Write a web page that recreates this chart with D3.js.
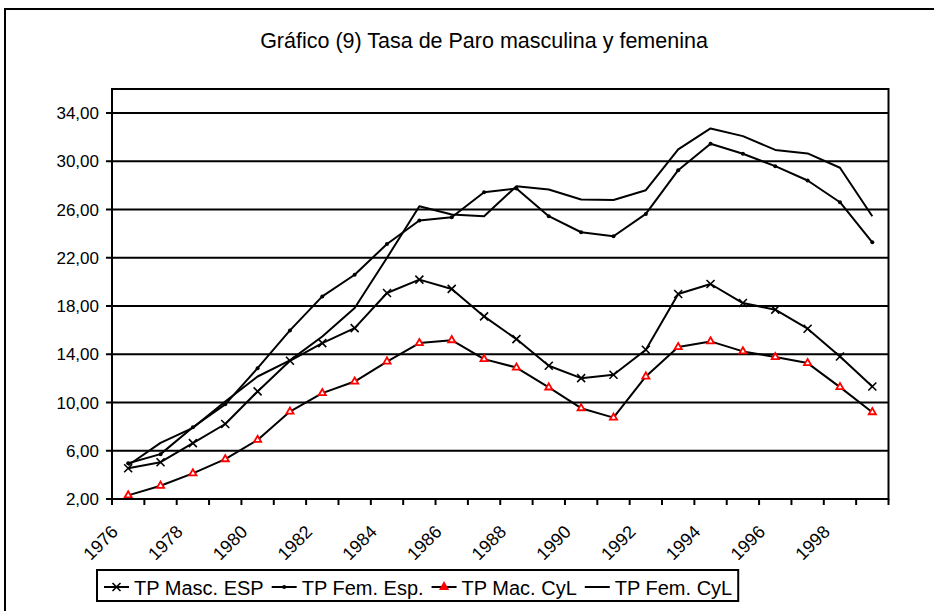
<!DOCTYPE html>
<html>
<head>
<meta charset="utf-8">
<script src="https://cdn.jsdelivr.net/npm/d3@7/dist/d3.min.js"></script>
<style>
  body { margin: 0; background: #fff; }
  text { font-family: "Liberation Sans", Arial, sans-serif; fill: #000; }
</style>
</head>
<body>
<svg width="934" height="611"></svg>
<script>
// categorias (años) y series
const years = ["1976", "1977", "1978", "1979", "1980", "1981", "1982", "1983", "1984", "1985", "1986", "1987",
    "1988", "1989", "1990", "1991", "1992", "1993", "1994", "1995", "1996", "1997", "1998", "1999"]
const yearLabels = ["1976", "1978", "1980", "1982", "1984", "1986", "1988", "1990", "1992", "1994", "1996", "1998"]
const yTicks = [2, 6, 10, 14, 18, 22, 26, 30, 34]

const tpMascEsp = [4.55, 5.05, 6.63, 8.22, 10.92, 13.46, 14.93, 16.17, 19.08, 20.19, 19.42, 17.14,
    15.26, 13.05, 12.02, 12.3, 14.38, 19.0, 19.83, 18.25, 17.7, 16.12, 13.82, 11.33]
const tpFemEsp = [4.96, 5.72, 7.95, 9.85, 12.85, 15.98, 18.8, 20.6, 23.15, 25.1, 25.36, 27.44,
    27.75, 25.45, 24.12, 23.79, 25.64, 29.27, 31.46, 30.63, 29.6, 28.41, 26.61, 23.29]
const tpMacCyl = [2.3, 3.1, 4.13, 5.3, 6.9, 9.25, 10.78, 11.74, 13.4, 14.93, 15.17, 13.6,
    12.9, 11.25, 9.53, 8.75, 12.16, 14.6, 15.07, 14.24, 13.77, 13.27, 11.28, 9.2]
const tpFemCyl = [4.8, 6.65, 7.9, 10.08, 12.16, 13.5, 15.48, 17.84, 22.0, 26.28, 25.59, 25.45,
    27.94, 27.66, 26.83, 26.8, 27.61, 30.99, 32.73, 32.09, 30.95, 30.66, 29.47, 25.45]

const seriesNames = ["TP Masc. ESP", "TP Fem. Esp.", "TP Mac. CyL", "TP Fem. CyL"]
const seriesValues = [tpMascEsp, tpFemEsp, tpMacCyl, tpFemCyl]
const seriesMarkers = ["cross", "dot", "triangle", "none"]

const svg = d3.select('svg')
const plotLeft = 112
const plotRight = 888.5
const plotTop = 89
const plotBottom = 499

const x = d3.scaleBand()
    .domain(years)
    .range([plotLeft, plotRight])
const y = d3.scaleLinear()
    .domain([2, 36])
    .range([plotBottom, plotTop])

const komma = d3.formatLocale({ decimal: ",", thousands: ".", grouping: [3], currency: ["", " €"] }).format(".2f")

// marco exterior
svg.append('rect')
    .attr('x', 5).attr('y', 9)
    .attr('width', 960).attr('height', 640)
    .attr('fill', 'none')
    .attr('stroke', '#000')
    .attr('stroke-width', 2)

svg.append('text')
    .attr('x', 484)
    .attr('y', 48)
    .attr('text-anchor', 'middle')
    .style('font-size', '21.5px')
    .text('Gráfico (9) Tasa de Paro masculina y femenina')

// lineas de division
svg.append('g')
    .selectAll('line')
    .data(yTicks)
    .enter()
    .append('line')
    .attr('x1', plotLeft - 6)
    .attr('x2', plotRight)
    .attr('y1', d => y(d))
    .attr('y2', d => y(d))
    .attr('stroke', '#000')
    .attr('stroke-width', 2)

svg.append('g')
    .selectAll('text')
    .data(yTicks)
    .enter()
    .append('text')
    .attr('x', 99)
    .attr('y', d => y(d) + 6)
    .attr('text-anchor', 'end')
    .style('font-size', '17px')
    .text(d => komma(d))

// eje x con marcas entre categorias
const xTicks = years.map(d => x(d)).concat([x(years[years.length - 1]) + x.bandwidth()])
svg.append('g')
    .selectAll('line')
    .data(xTicks)
    .enter()
    .append('line')
    .attr('x1', d => d)
    .attr('x2', d => d)
    .attr('y1', plotBottom)
    .attr('y2', plotBottom + 6)
    .attr('stroke', '#000')
    .attr('stroke-width', 2)

svg.append('g')
    .selectAll('text')
    .data(yearLabels)
    .enter()
    .append('text')
    .attr('transform', d => `translate(${x(d) + x.bandwidth() / 2 - 9},${533}) rotate(-45)`)
    .attr('text-anchor', 'end')
    .style('font-size', '18px')
    .text(d => d)

// series
const line = d3.line()
    .x((d, i) => x(years[i]) + x.bandwidth() / 2)
    .y(d => y(d))

seriesValues.forEach(values => {
    svg.append('path')
        .datum(values)
        .attr('d', line)
        .attr('fill', 'none')
        .attr('stroke', '#000')
        .attr('stroke-width', 2)
        .attr('stroke-linejoin', 'round')
})

function drawMarker(g, type, legend) {
    if (type === 'cross') {
        g.append('path')
            .attr('d', 'M-4,-4L4,4M-4,4L4,-4')
            .attr('stroke', '#000')
            .attr('stroke-width', 1.6)
    } else if (type === 'dot') {
        g.append('circle')
            .attr('r', 2)
            .attr('fill', '#000')
    } else if (type === 'triangle') {
        g.append('path')
            .attr('d', d3.symbol(d3.symbolTriangle).size(legend ? 22 : 22)())
            .attr('fill', legend ? '#f00' : '#fff')
            .attr('stroke', '#f00')
            .attr('stroke-width', 1.8)
    }
}

seriesValues.forEach((values, s) => {
    if (seriesMarkers[s] === 'none') return
    const groups = svg.append('g')
        .selectAll('g')
        .data(values)
        .enter()
        .append('g')
        .attr('transform', (d, i) => `translate(${x(years[i]) + x.bandwidth() / 2},${y(d)})`)
    groups.each(function () { drawMarker(d3.select(this), seriesMarkers[s], false) })
})

// borde del area de trazado
svg.append('rect')
    .attr('x', plotLeft).attr('y', plotTop)
    .attr('width', plotRight - plotLeft).attr('height', plotBottom - plotTop)
    .attr('fill', 'none')
    .attr('stroke', '#000')
    .attr('stroke-width', 2)

// leyenda
const legendBox = svg.append('rect')
    .attr('x', 97).attr('y', 570)
    .attr('width', 645).attr('height', 31)
    .attr('fill', '#fff')
    .attr('stroke', '#000')
    .attr('stroke-width', 2)

let pos = 104
seriesNames.forEach((name, s) => {
    const item = svg.append('g')
    item.append('line')
        .attr('x1', pos).attr('x2', pos + 25)
        .attr('y1', 587).attr('y2', 587)
        .attr('stroke', '#000')
        .attr('stroke-width', 2)
    const m = item.append('g').attr('transform', `translate(${pos + 12.5},587)`)
    drawMarker(m, seriesMarkers[s], true)
    const label = item.append('text')
        .attr('x', pos + 30)
        .attr('y', 595)
        .style('font-size', '20px')
        .text(name)
    pos = pos + 30 + label.node().getComputedTextLength() + 8
})
legendBox.attr('width', pos - 97 - 2)
</script>
</body>
</html>
